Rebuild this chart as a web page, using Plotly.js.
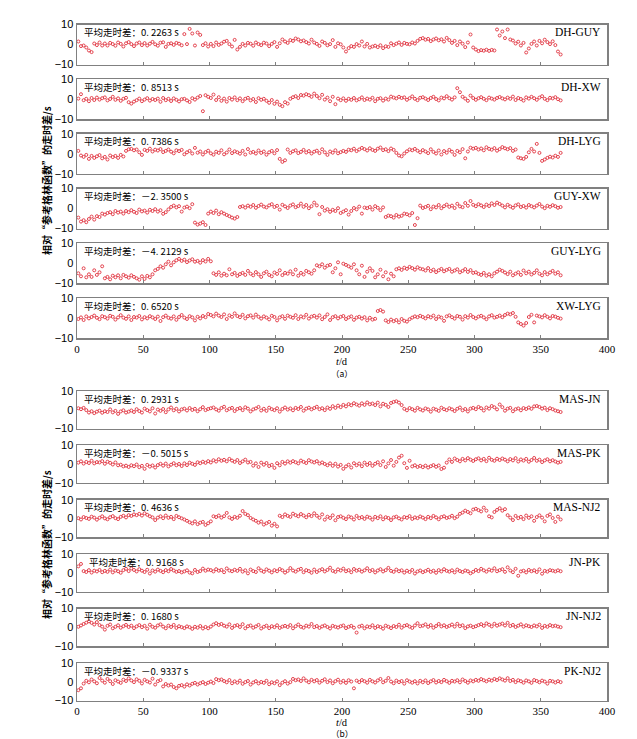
<!DOCTYPE html>
<html>
<head>
<meta charset="utf-8">
<script src="https://cdn.plot.ly/plotly-3.0.1.min.js"></script>
<style>
html,body{margin:0;padding:0;background:#fff;}
#chart{width:637px;height:739px;}
</style>
</head>
<body>
<div id="chart"></div>
<script>
// day sequence (every second day of the year)
const days = [];
for (let d = 1; d <= 365; d += 2) days.push(d);

const xTicks = [0, 50, 100, 150, 200, 250, 300, 350, 400];
const yTicks = [-10, 0, 10];

const DH_GUY = [1.5,-0.8,-0.5,-1.5,-3,-3.8,0.5,-0.3,1,-0.5,
0.5,-0.5,0.8,0.2,-0.6,1,0.3,-1,0.6,1.2,
0.2,-0.8,0.5,1,-0.3,0.7,-0.5,0.4,1.3,0.1,
-0.6,0.9,1.1,-1.2,0.3,0.6,-0.2,0.8,0.4,-0.4,
5.2,0.2,7.8,5.5,-0.5,6,4.8,-0.3,0.6,-1,
0.3,-0.8,1,-0.2,0.5,1.4,1.8,0.2,-1,2.3,
-2.5,-1.2,0.3,-0.5,0.8,0.4,-0.6,1,0.2,-0.3,
0.9,0.5,-0.8,0.3,1.2,-1.2,0.6,2.5,1.5,0.8,
2.2,1.8,3,2.5,1.6,2,1.2,0.5,2.4,1,
0.3,-0.7,1.5,0.8,-0.4,0.2,2.2,-1.2,0.6,0.1,
-1.5,-3.5,-1.8,-0.8,-1.2,0.2,-0.5,1.5,-1,0.3,
-1.5,-1,-0.6,-1.3,-0.4,-1.8,-0.9,-1.2,0.6,-0.3,
0.4,1,-0.2,0.8,0.3,0.1,1,0.5,1.8,2.8,
3.2,2.4,2.8,1.7,2.5,3,2.1,2.6,1.5,3.3,
2.2,0.8,1.8,-0.3,1.5,0.4,-1.3,1,5,-1.5,
-2.5,-3.3,-2.8,-3.1,-2.6,-3.2,-2.7,-3,7.5,4.5,
6.5,3.2,7.5,2.5,2,0.5,1.4,-0.5,0.8,-4,
-2,0.3,1.5,-0.5,1.8,0.6,2.4,1.2,0.2,1.6,
-0.3,-3.5,-5];

const DH_XW = [0.3,2.5,-0.5,0.2,-1,0.6,-0.4,0.8,-0.2,0.5,
0.9,-0.6,0.1,1.2,-0.3,0.4,-0.8,0.2,0.7,-1.5,
-2.2,-1.2,-0.5,0.3,-1,-0.2,0.5,-0.7,0.1,-0.4,
0.3,-1.3,0.6,-0.5,0.2,-0.9,0.4,-0.3,-1.1,0,
0.2,-0.6,-1.4,0.5,-0.2,0.8,1.6,-6,2,1.2,
0.6,2.3,-0.4,1,-0.8,0.3,-1.2,0.6,-0.2,0.9,
-0.5,0.4,-1,0.2,0.7,-0.6,0.1,-1.4,0.5,-0.3,
0.2,-0.8,-1.8,-0.4,-2.3,-1.2,-2.8,-3.5,-1.5,-2.2,
0.2,1,1.5,0.6,2.1,1.8,2.5,2,1.2,2.8,
1.6,0.5,2.2,-0.2,0.8,-1,1.2,-2.5,0.3,-0.5,
0.4,-0.8,0.2,-0.3,0.6,-0.6,0,0.9,-0.4,0.3,
-0.2,0.7,-1,0.2,0.5,-0.7,0.3,-0.2,1.3,0.8,
0.4,1.2,0.6,0.9,-0.3,0.5,1.4,0.2,-0.5,0.7,
1,0.3,-0.4,0.6,1.2,0.1,-0.6,0.8,0.4,1.5,
0.5,-0.2,0.9,5.5,3.5,1.2,0.3,-0.8,1.8,0.6,
-0.3,0.5,1,0.2,-0.5,0.8,0.3,-0.2,0.6,1.1,
0.4,-0.1,0.8,0.2,1.3,-0.4,0.6,0.1,-0.7,0.9,
0.3,1.2,0.5,-0.3,0.8,1.5,0.2,-0.5,0.7,0.4,
1,0,-0.6];

const DH_LYG = [1.5,-0.8,-1.5,-0.5,-2.5,-1,-2,-1.2,-0.6,-2.2,
-1.5,-2.8,-0.8,-1.6,-1,-2,-0.5,-1.3,1.5,2.3,
2.5,1.8,2.2,0.8,-0.5,2,1.5,2.6,1.2,2.1,
1.7,2.4,0.9,1.5,2.2,1.1,0.3,1.8,1.4,2,
-0.2,0.8,1.5,0.2,3,0.6,1.2,-0.3,0.9,1.6,
0.3,-0.4,1.1,0.5,1.8,-0.2,0.7,2.2,0.4,1.3,
0.8,0.1,1.5,-0.3,2.4,0.6,1,0.2,1.7,0.5,
1.2,-0.4,0.8,1.5,0.3,1.9,-2.5,-4,-3.2,2.2,
0.5,1.3,1.8,0.4,1,2,0.7,1.4,0.2,1.1,
1.6,0.4,2.3,0.8,-0.5,1.2,0.6,1.8,0.3,0.9,
1.5,1,2.1,1.8,2.6,1.4,2.2,3,2.4,1.7,
2.8,2,1.5,2.6,3.2,1.9,2.3,1.4,2.7,2,
0.5,-0.8,-1.2,0.2,1.3,2.2,1.8,2.5,1.6,0.8,
1.9,1.2,0.4,2.3,1,0.2,1.7,-0.3,1.4,0.6,
2,1.1,-0.5,1.5,0.8,2.4,-2.2,1.2,3.1,2.6,
3,2.2,2.7,1.8,3.3,2.5,2.1,2.9,1.6,2.4,
3.4,2.8,2.3,2.9,1.5,2.2,-1.8,-2.2,-2.5,-1.5,
0.8,2.5,1.2,5,0.5,-3.5,-2.8,-2,-1.4,-1.8,
-0.9,-1.5,0.5];

const GUY_XW = [-4.5,-6.5,-5.8,-6.8,-5.2,-4,-5.5,-3.8,-4.2,-2.5,
-3,-2.2,-1.8,-2.8,-1.2,-2,-1.5,-2.5,-1.2,-1.8,
-0.8,-1.6,-2.2,-0.5,-1.4,-1,-2,-0.6,-1.2,-0.3,
-1.5,-0.8,-2.6,-1.8,-0.4,0.8,1.5,0.6,1.2,-1.5,
0.5,1,0.2,2.2,-7,-8,-7.5,-6.8,-8.2,-2.5,
-1.5,-2.2,-1,-2.8,-1.8,-2.5,-3.2,-3.8,-4.5,-5,
-4.2,0.8,1.2,0.5,1.5,0.9,1.8,0.4,1.3,2,
1,0.6,1.6,2.2,0.8,1.4,-0.5,1.9,1.1,0.3,
1.5,2.1,0.7,1.3,2.5,0.9,1.8,0.2,1.2,3,
1.6,-2.8,0.8,-1,-0.3,-1.6,-0.6,-1.2,0.2,-2.2,
-1.5,-0.8,-3,-1.2,0.3,-0.4,1,-2.5,0.5,0.2,
0.8,-0.5,1.2,0.4,-0.8,0.6,-4.2,-3.5,-3.8,-4.5,
-3.2,-4,-3.6,-2.5,-2.8,-3.4,-2.2,-8.2,-4.8,1.5,
0.3,0.8,1.4,-0.3,1,0.6,1.8,0.2,1.2,2,
0.9,1.5,0.3,2.4,1.1,0.7,2.8,1.4,3.8,1.9,
1.2,2.2,1.6,0.8,2,1.3,2.6,1.8,3,2.3,
1.5,0.6,1.9,1.1,0.4,1.6,2.1,0.8,1.3,0.5,
1.8,1.2,0.6,1.5,2.3,1,0.2,1.4,0.9,1.7,
1.2,0.4,0.8];

const GUY_LYG = [-5,-6.5,-2.5,-7,-5.5,-6.8,-3.5,-5.8,-4.5,-1.5,
-7.5,-6.8,-8,-6.2,-7,-6,-7.5,-5.8,-6.5,-7.2,
-6,-6.8,-7.5,-8.2,-6.5,-7.8,-6.3,-7,-5.5,-3.5,
-2.8,-1.5,-2.2,-0.5,0.8,-1,0.5,1.5,2.2,1.2,
1.8,0.6,1.4,2,0.8,1.2,0.3,1.6,0.9,2.2,
1,-5,-5.8,-4.5,-6.2,-5.2,-6,-3,-5.5,-4.8,
-6.3,-5.4,-4.8,-5.8,-3.8,-5.2,-6,-4.4,-5.5,-6.8,
-5,-4.2,-5.8,-6.5,-4.6,-5.3,-3.5,-5.9,-4.8,-5.2,
-4,-5.5,-3.2,-6.2,-4.8,-5.6,-3.8,-4.5,-5.2,-3.5,
-1,-1.5,-0.5,-2.2,-1.2,-0.8,-4.5,-2.5,0.5,-5.5,
-0.2,-0.8,-1.5,-2.2,-0.5,-3.5,-5.5,-1.2,-6.8,-4.2,
-2.5,-3.8,-7,-5.5,-3.2,-6.5,-4.5,-8,-5.2,-6.5,
-3,-2.5,-3.3,-2.2,-2.8,-1.8,-2.4,-3.2,-2,-2.7,
-3,-3.6,-2.4,-3.9,-3.2,-4.4,-3.5,-2.8,-4,-3.3,
-2.8,-4.2,-3.6,-3,-4.5,-3.8,-2.9,-4.3,-3.4,-4.8,
-4.5,-5.3,-5.8,-4.8,-6.2,-5.5,-6.5,-5,-4.2,-3.2,
-3.8,-4.6,-5.4,-4.2,-6,-5.2,-4.5,-5.8,-3.6,-5,
-4.2,-5.6,-4.8,-3.5,-5.2,-6,-4.4,-5.5,-4.6,-3.8,
-5.2,-4.5,-6];

const XW_LYG = [-0.5,0.3,-1,0.8,-0.2,0.5,1.2,0.1,-0.6,0.9,
0.4,-0.3,1.1,0.6,-0.8,0.3,1.4,0.2,-0.4,0.8,
-1,0.5,0.2,1,-0.7,0.4,-0.2,0.9,0.3,-0.5,
0.7,-1.5,0.4,1.2,0.1,-0.3,0.8,-0.9,0.5,1.5,
0.2,-0.5,0.9,0.3,-1.2,0.6,-0.2,1,0.4,2,
1.5,0.8,2.2,1.2,0.5,1.8,-0.5,1.3,0.6,2.3,
1,0.4,1.6,-0.2,0.9,1.3,0.2,1.7,0.6,-0.3,
0.8,0.2,-0.7,1.1,0.5,-1.2,0.3,0.9,-0.4,1.2,
0.6,0.1,1.4,-0.5,0.8,0.3,1.6,-0.3,0.7,1.1,
0.2,1.3,-0.6,0.5,1.8,-1,0.4,0.9,-0.2,0.6,
1,-0.5,0.3,0.8,-0.9,0.2,0.6,-0.3,0.4,-1.2,
0.1,-0.8,-0.4,3.5,4,3.2,-1.2,-2,-0.8,-1.6,
-1,-2.2,-0.5,-1.4,-1.8,-0.6,0.2,0.8,0.4,1.1,
0.5,-0.2,0.9,0.3,1.2,-0.5,0.7,0.2,-1.4,0.8,
1.3,0.4,-0.3,1,0.6,-0.8,0.9,0.2,1.5,0.5,
-0.2,0.7,1.1,0.3,-0.6,0.8,1.4,0.2,0.6,1.2,
0.4,1.5,2.2,1.8,2.5,0.6,-2.2,-3,-3.8,-2.5,
0.5,1.6,-2.2,1.2,0.8,0.3,1.4,0.6,-0.2,1,
0.7,0.1,-0.3];

const MAS_JN = [0.8,0.3,1,-0.2,-1.5,-0.8,-1.8,-1,-0.5,-1.6,
-0.8,-1.2,0.2,-1.4,-0.6,-2.2,-0.9,-0.3,-1.5,-1,
-0.4,-1.2,0.3,-0.7,-1.5,0.6,-0.2,-0.9,0.8,-2,
0.1,-0.6,0.4,-1.3,0.2,1.2,-0.3,0.5,-0.9,0.2,
0.6,-0.4,0.9,-0.1,0.5,-0.8,0.3,1.4,-0.2,0.4,
0.8,1.2,0.2,-0.5,0.9,1.6,-0.3,0.5,1,-0.7,
0.4,0.9,-0.2,1.3,0.6,-0.9,0.2,0.7,1.5,-0.4,
0.5,-0.6,1.1,0.3,-0.2,0.8,-1,0.4,1.2,0.1,
0.7,-0.3,1,0.4,1.5,-0.5,0.6,1.1,0.2,0.9,
1.6,0.3,0.8,-0.2,1.2,0.5,1.9,1,2.2,1.4,
2.6,1.8,3,2.4,3.5,2.8,2.2,3.4,2.6,3.9,
2.9,3.3,2.5,3.8,1.8,3.2,2.6,1.5,3.6,4.2,
4.5,3.8,2.5,0.5,-0.3,0.9,0.3,-0.5,1,0.2,
-0.4,0.7,0.2,-1,0.6,0.1,-0.6,1.1,0.3,-0.2,
0.8,0.2,-0.7,0.5,1.2,-0.3,0.4,-0.9,0.6,1,
0.3,1.5,0.8,-0.4,1.2,0.6,2,1.3,0.2,2.8,
1.4,-0.5,0.6,1,-0.8,0.3,0.7,-0.3,0.9,0.4,
1.2,0.5,1.8,2,1.5,0.6,1.1,-0.2,0.8,0.3,
-0.4,-0.8,-1.2];

const MAS_PK = [0.8,1.5,0.3,1.2,0.6,1.8,0.4,1.1,0.9,1.6,
0.2,1.3,0.7,-0.2,0.9,-0.6,-0.3,-1.2,-0.8,-1.5,
-0.6,-1.1,-0.2,-1.6,-0.9,-2.5,-0.4,-1.3,-0.7,-1.8,
-0.5,0.2,-0.8,0.3,-1.2,-0.3,0.5,-0.6,0.1,-1,
0.4,-0.5,0.8,0.2,-0.4,1,0.5,1.3,0.7,1.6,
0.9,2.1,1.4,2.6,1.8,2.3,1.5,2.8,1.9,1.2,
2.2,0.6,1.5,2.4,0.9,1.2,-0.8,0.4,-1.5,0.8,
-0.3,0.6,-1,-0.4,-2,0.5,-0.6,1.2,0.3,1.5,
0.8,1.6,1,0.4,1.9,1.2,0.6,2.1,1.4,0.9,
1.6,0.3,0.9,0.1,-0.6,0.4,-0.9,0.2,-1.3,-0.4,
-2.5,-1.2,-0.3,-1.8,0.5,-0.6,0.3,-1.1,0.8,-0.4,
0.6,-0.9,0.2,1,-0.5,1.5,-1.5,0.4,2.2,-0.8,
1.2,3.5,4.5,0.5,-2,1.8,-1.2,-0.6,-1.5,-0.9,
-1.6,-0.8,-1.8,-1.1,-0.5,-1.4,-0.7,-2.6,-1.9,0.8,
2.5,1.2,3,2.2,1.5,2.8,2,3.2,2.4,1.7,
2.6,3.1,2,2.8,1.6,3.4,2.3,1.8,2.9,2.2,
3,2.4,1.5,2.7,2,3.2,1.4,2.5,1.9,2.8,
1.3,2.2,3.3,1.8,2.4,1.1,2,2.6,1.5,2.1,
1.4,0.8,1.2];

const MAS_NJ2 = [0.2,-0.5,0.8,0.3,-0.2,1,0.5,-0.6,0.4,1.2,
0.1,-0.4,0.7,1.3,0.2,-0.3,0.9,1.5,0.6,1.8,
1.4,2.2,1.8,2.5,1.6,2.8,2,1.2,0.6,-0.8,
0.5,1.2,0.2,1.6,0.4,0.9,-0.3,1.4,0.7,0.1,
-0.5,-1.2,-2,-2.6,-1.5,-3,-2.2,-1.8,-3.4,-2.5,
-1.5,1.2,0.8,1.6,0.5,1.3,3,0.6,-0.2,0.9,
0.4,1.5,4,2.5,1.8,0.3,-0.5,-1.2,-2.2,-1.6,
-3.2,-2.5,-1.8,-3.8,-2.8,-4.2,1.5,0.8,2.2,1.4,
0.9,2.6,1.8,1.2,2.4,1.6,0.7,2,1.3,2.8,
1.5,0.4,2.2,-0.6,1,0.3,1.7,-0.9,0.8,1.2,
0.4,-0.3,1.1,0.6,-0.5,1.4,0.2,0.8,-0.2,1,
0.5,-0.6,0.9,0.2,1.2,-0.4,0.7,0.3,-0.8,0.6,
1,0.1,-0.5,0.8,0.4,1.3,-0.2,0.6,0.2,1.1,
0.5,-0.3,0.9,0.2,1.4,0.6,-0.4,0.8,1.2,0.3,
0.7,1.5,0.2,1,2.5,3.2,4.2,3.5,2.8,4.8,
5.2,4.5,3.8,5.8,4.2,1.2,0.6,3.5,4.6,5.5,
4.2,5,1.8,0.5,-0.8,1.4,0.2,0.9,-0.3,1.6,
0.4,1.2,-1.2,0.8,1.7,0.5,-1.5,1.4,2.2,0.3,
-1.8,1,-0.5];

const JN_PK = [3.5,4.8,1,0.5,1.5,0.2,1.2,0.8,1.6,0.4,
1.1,0.6,1.8,0.3,1.3,0.9,0.1,1.5,2.2,1,
2.4,1.6,0.8,2,1.2,0.5,1.7,-0.3,1.3,0.7,
1.8,1.1,0.4,1.5,0.9,2.1,1.3,0.6,1,0.3,
0.8,1.4,0.2,-0.2,1.6,0.5,1,2.3,1.2,1.8,
1.5,0.8,2,1.2,1.6,0.4,2.4,1.3,0.9,1.7,
1.1,2.2,0.7,1.4,-0.2,1.8,1,0.5,2.5,1.3,
0.6,1.9,1.2,0.3,1.5,0.9,2.1,1.4,0.2,1.1,
2.6,1.3,0.7,1.7,2.2,0.4,1.5,1,0.1,1.8,
0.5,1.4,2,0.8,1.6,2.8,1.1,0.6,1.9,1.3,
2.3,0.9,1.5,0.4,2.1,1.2,1.7,0.7,1.4,2.5,
1,1.6,0.3,1.3,2,0.8,1.5,2.7,1.1,0.6,
1.8,0.9,1.4,0.2,1.2,0.5,1.6,-0.3,0.8,1.3,
0.4,1,1.7,0.6,1.2,0.1,1.5,0.8,2,1.1,
0.7,1.4,0.3,1.8,1,0.5,1.3,0.9,-0.2,0.6,
1.6,1,2.2,1.4,0.7,1.8,1.2,2.5,0.9,1.5,
2,0.6,3,1.3,0.4,2.2,-1.5,0.8,1.2,0.3,
1.6,0.9,1.4,0.5,1.9,-0.4,1.1,0.7,1.5,1.2,
0.8,1.4,0.9];

const JN_NJ2 = [0.3,1,1.8,2.5,3.2,2.4,1.5,2.8,1.2,0.4,
-1.2,0.8,1.5,-0.5,0.3,1.1,-0.2,0.6,1.3,0.2,
0.9,-0.4,0.5,1.2,0.1,0.8,-0.7,1.4,0.3,-0.2,
1,1.6,0.4,-0.5,0.9,0.2,1.3,-0.3,0.6,0.1,
-0.4,0.5,0.1,-0.8,0.3,-0.2,0.7,-0.6,0.2,-0.5,
0.4,1.5,2.2,1.3,1.8,0.9,0.4,1.6,-0.3,0.8,
1.2,0.2,1.7,-0.5,0.6,1,-0.2,0.5,1.3,-0.6,
0.3,0.9,-0.4,0.6,0.1,1.1,-0.3,0.4,0.8,0.2,
1.2,-0.5,0.6,1.5,0.3,-0.2,0.9,0.4,1.8,0.1,
0.7,-0.3,0.5,1,0.2,-0.6,0.8,0.3,-0.1,0.6,
1,-0.4,0.3,0.8,-0.2,-2.8,0.4,0.9,-0.5,0.5,
0.1,1.1,-0.3,0.6,0.2,-0.7,0.9,0.3,-0.4,0.7,
0.2,1.4,-0.2,0.8,1.2,0.4,-0.3,1,2.2,0.6,
0.9,1.6,0.3,1.2,-0.2,0.7,1.8,0.5,1.1,0.2,
0.8,1.5,0.4,1.9,0.6,1.1,-0.4,0.5,0.9,0.1,
0.6,1.2,1.7,0.8,2.1,1.4,0.5,1.9,0.9,1.5,
2,1,2.4,0.7,1.3,0.2,0.9,1.6,0.4,1.1,
0.6,0.2,1,0.5,1.4,-0.3,0.8,0.3,1.2,0.6,
0.9,0.4,0.1];

const PK_NJ2 = [-4.5,-3.5,-1,0.5,-0.3,1.2,0.2,-0.8,2,0.6,
-0.5,1.5,0.3,-1.2,0.8,0.1,-0.6,1.1,0.4,1.8,
0.7,-0.2,1.3,0.5,-0.9,1,0.2,-0.4,1.6,-1.5,
0.3,0.9,-2.5,-1.2,-2,-1.5,-2.8,-3.5,-2.2,-1.8,
-2.6,-1.4,-2,-1.1,-0.6,-1.5,-0.8,-0.2,-1.2,-0.5,
0.1,-0.7,1.4,0.8,1.2,0.4,-0.3,0.9,-0.8,0.2,
-0.5,0.6,-1.1,-0.2,0.4,-1.5,-0.4,0.3,-0.9,-0.1,
-0.6,0.5,-1.3,-0.3,-0.8,0.2,-1.8,-0.5,0.3,-1,
-0.2,1.5,0.8,1.2,0.4,1.8,0.6,-0.3,1,0.2,
0.9,-0.5,0.5,1.3,-0.2,0.7,-0.8,0.3,1.1,-0.4,
0.5,-0.6,0.8,0.1,-3.5,0.6,-0.2,0.9,0.3,-0.5,
1,0.2,-0.4,0.7,1.5,-0.3,0.5,2,0.1,-0.8,
0.6,-0.2,0.4,-1,0.8,0.1,-0.5,0.3,-0.9,0.5,
-0.3,0.7,-0.7,0.2,0.9,-0.4,0.4,-0.2,1,0.3,
-0.6,0.5,0.1,0.8,-0.3,1.2,0.4,-0.5,0.7,0.2,
1,0.5,1.4,0.8,0.2,1.1,0.6,1.5,0.9,1.8,
1.2,0.6,1.9,0.4,1,-0.2,0.8,0.3,-0.5,0.7,
0.2,-0.6,0.9,0.4,-0.3,0.6,0.1,-1,0.5,0.2,
-0.4,0.3,-0.2];

const stationPairs = ["DH-GUY","DH-XW","DH-LYG","GUY-XW","GUY-LYG","XW-LYG",
                      "MAS-JN","MAS-PK","MAS-NJ2","JN-PK","JN-NJ2","PK-NJ2"];
const meanLabels = ["0. 2263 s","0. 8513 s","0. 7386 s","－2. 3500 s","－4. 2129 s","0. 6520 s",
                    "0. 2931 s","－0. 5015 s","0. 4636 s","0. 9168 s","0. 1680 s","－0. 9337 s"];
const seriesList = [DH_GUY, DH_XW, DH_LYG, GUY_XW, GUY_LYG, XW_LYG,
                    MAS_JN, MAS_PK, MAS_NJ2, JN_PK, JN_NJ2, PK_NJ2];

const W = 637, H = 739;
const topsA = [24.5, 79.2, 133.9, 188.6, 243.3, 298];
const topsB = [391, 445.4, 499.8, 554.2, 608.6, 663];
const hA = 40, hB = 37.5;
const xDom = [77 / W, 607 / W];

const redColor = '#e0323e';
const frameColor = '#808080';

const traces = [];
const layout = {
  width: W, height: H,
  margin: {l: 0, r: 0, t: 0, b: 0},
  paper_bgcolor: '#ffffff',
  plot_bgcolor: '#ffffff',
  showlegend: false,
  annotations: []
};

for (let i = 0; i < 12; i++) {
  const inA = i < 6;
  const top = inA ? topsA[i] : topsB[i - 6];
  const h = inA ? hA : hB;
  const isBottom = (i === 5 || i === 11);
  const n = i + 1;
  const xa = n === 1 ? 'xaxis' : 'xaxis' + n;
  const ya = n === 1 ? 'yaxis' : 'yaxis' + n;
  traces.push({
    type: 'scatter', mode: 'markers',
    x: days, y: seriesList[i],
    xaxis: 'x' + (n === 1 ? '' : n), yaxis: 'y' + (n === 1 ? '' : n),
    marker: {symbol: 'circle-open', size: 3, color: redColor, line: {width: 0.9, color: redColor}},
    hoverinfo: 'skip', cliponaxis: false
  });
  layout[xa] = {
    domain: xDom, range: [0, 400], anchor: 'y' + (n === 1 ? '' : n),
    tickvals: xTicks, ticktext: xTicks.map(String),
    showticklabels: isBottom, ticks: 'inside', ticklen: 3, tickwidth: 1, tickcolor: frameColor,
    showline: true, mirror: true, linecolor: frameColor, linewidth: 1.5,
    showgrid: false, zeroline: false,
    tickfont: {family: 'Liberation Serif, serif', size: 11, color: '#000'}
  };
  layout[ya] = {
    domain: [1 - (top + h) / H, 1 - top / H], range: [-10, 10],
    anchor: 'x' + (n === 1 ? '' : n),
    tickvals: yTicks, ticks: '', showline: true, mirror: true,
    linecolor: frameColor, linewidth: 1.5, showgrid: false, zeroline: false,
    tickfont: {family: 'Liberation Sans, Arial, sans-serif', size: 11, color: '#000'}
  };
  const yText = 1 - (top + 7.5) / H;
  layout.annotations.push({
    xref: 'paper', yref: 'paper', x: (i === 9 ? 87 : 82) / W, y: yText,
    xanchor: 'left', yanchor: 'middle', showarrow: false,
    text: '平均走时差：' + meanLabels[i],
    font: {family: 'Noto Sans CJK SC, sans-serif', size: 9.5, color: '#000'}
  });
  layout.annotations.push({
    xref: 'paper', yref: 'paper', x: 603 / W, y: yText,
    xanchor: 'right', yanchor: 'middle', showarrow: false,
    text: stationPairs[i],
    font: {family: 'Liberation Serif, serif', size: 11.5, color: '#000'}
  });
}

const yLabel = '相对“参考格林函数”的走时差/s';
[[181, 361.5, 373, '（a）'], [545, 722, 733, '（b）']].forEach(function (g) {
  layout.annotations.push({
    xref: 'paper', yref: 'paper', x: 46 / W, y: 1 - g[0] / H,
    xanchor: 'center', yanchor: 'middle', showarrow: false, textangle: -90,
    text: '<b>' + yLabel + '</b>',
    font: {family: 'Noto Sans CJK SC, sans-serif', size: 10, color: '#000'}
  });
  layout.annotations.push({
    xref: 'paper', yref: 'paper', x: 342 / W, y: 1 - g[1] / H,
    xanchor: 'center', yanchor: 'middle', showarrow: false,
    text: '<i>t</i>/d',
    font: {family: 'Liberation Serif, serif', size: 10.5, color: '#000'}
  });
  layout.annotations.push({
    xref: 'paper', yref: 'paper', x: 342 / W, y: 1 - g[2] / H,
    xanchor: 'center', yanchor: 'middle', showarrow: false,
    text: g[3],
    font: {family: 'Noto Sans CJK SC, serif', size: 8.5, color: '#000'}
  });
});

Plotly.newPlot('chart', traces, layout, {staticPlot: true, displayModeBar: false});
</script>
</body>
</html>
